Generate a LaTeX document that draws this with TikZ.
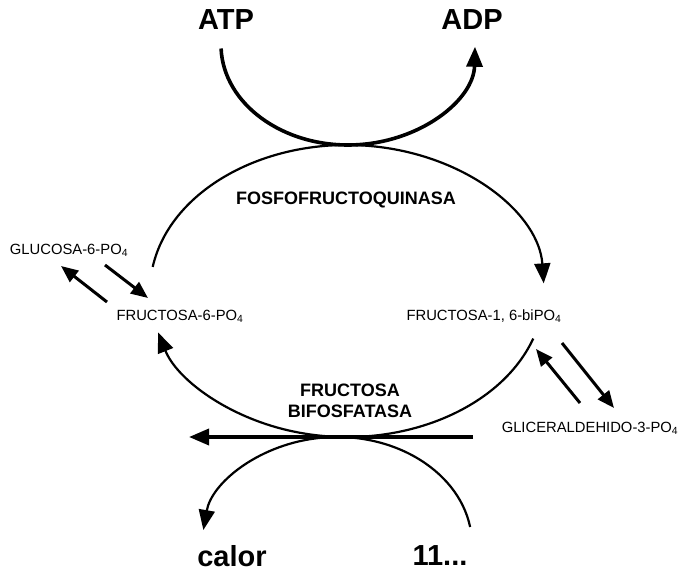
\documentclass[tikz,border=0pt]{standalone}
\usepackage{fontspec}
\setmainfont{Liberation Sans}
\usetikzlibrary{arrows.meta,calc}
\begin{document}
\begin{tikzpicture}[x=1pt,y=-1pt,
  big/.style={font=\fontsize{29}{32}\selectfont\bfseries, inner sep=0pt},
  enz/.style={font=\fontsize{18}{21}\selectfont\bfseries, align=center, inner sep=0pt},
  met/.style={font=\fontsize{14.8}{17}\selectfont, inner sep=0pt},
  arcline/.style={line width=2.2pt},
  thickarc/.style={line width=3.6pt},
  tip/.style={-{Triangle[length=20pt,width=16pt]}},
  smalltip/.style={-{Triangle[length=17pt,width=14pt]}}]
\useasboundingbox (0,0) rectangle (678,572);
% labels
\node[big] (atp) at (226,20) {ATP};
\node[big] (adp) at (472,20) {ADP};
\node[big] (calor) at (232,556) {calor};
\node[big] (once) at (440,556) {11...};
\node[enz] (pfk) at (346,200) {FOSFOFRUCTOQUINASA};
\node[enz] (fbp) at (350,401) {FRUCTOSA\\BIFOSFATASA};
\node[met] (g6p) at (69,250) {GLUCOSA-6-PO\textsubscript{4}};
\node[met] (f6p) at (180,316) {FRUCTOSA-6-PO\textsubscript{4}};
\node[met] (fbip) at (484,316) {FRUCTOSA-1, 6-biPO\textsubscript{4}};
\node[met] (gap) at (590,428) {GLICERALDEHIDO-3-PO\textsubscript{4}};
% main cycle
\coordinate (C1) at (347,291);
\coordinate (tA) at ($(C1)+(-170.5:197 and 146)$);
\draw[arcline,tip] (tA) arc[start angle=-170.5, end angle=-3, x radius=197, y radius=146];
\coordinate (bA) at ($(C1)+(19:197 and 146)$);
\draw[arcline,tip] (bA) arc[start angle=19, end angle=163.5, x radius=197, y radius=146];
% ATP -> ADP
\coordinate (C2) at (348,45);
\coordinate (aA) at ($(C2)+(178:127 and 100)$);
\draw[thickarc,tip] (aA) arc[start angle=178, end angle=1, x radius=127, y radius=100];
% 11... -> calor
\coordinate (C3) at (340,545);
\coordinate (cA) at ($(C3)+(-9.6:132 and 108)$);
\draw[arcline,tip] (cA) arc[start angle=-9.6, end angle=-172, x radius=135, y radius=108];
% horizontal arrow
\coordinate (hR) at (473,437);
\coordinate (hL) at (189,437);
\draw[thickarc,tip] (hR) -- (hL);
% side arrows
\coordinate (l1s) at (105,265); \coordinate (l1e) at (148,298);
\coordinate (l2s) at (107,302); \coordinate (l2e) at (61,266);
\draw[line width=3pt,smalltip] (l1s) -- (l1e);
\draw[line width=3pt,smalltip] (l2s) -- (l2e);
\coordinate (r1s) at (580,403); \coordinate (r1e) at (536,349);
\coordinate (r2s) at (562,343); \coordinate (r2e) at (614,408);
\draw[line width=3pt,smalltip] (r1s) -- (r1e);
\draw[line width=3pt,smalltip] (r2s) -- (r2e);
\end{tikzpicture}
\end{document}
